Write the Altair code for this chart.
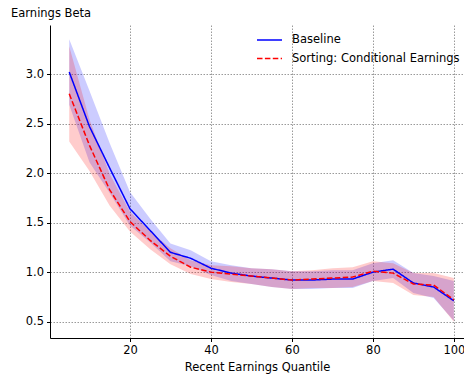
import altair as alt
import pandas as pd

quantile = [5, 10, 15, 20, 25, 30, 35, 40, 45, 50, 55, 60, 65, 70, 75, 80, 85, 90, 95, 100]
baseline = [3.02, 2.47, 2.05, 1.64, 1.42, 1.20, 1.14, 1.04, 0.99, 0.96, 0.94, 0.92, 0.92, 0.93, 0.93, 1.00, 1.03, 0.89, 0.85, 0.71]
baseline_half = [0.33, 0.36, 0.25, 0.17, 0.12, 0.09, 0.08, 0.07, 0.08, 0.08, 0.09, 0.09, 0.09, 0.09, 0.09, 0.09, 0.09, 0.10, 0.11, 0.20]
sorting = [2.80, 2.28, 1.83, 1.51, 1.32, 1.16, 1.05, 1.00, 0.98, 0.96, 0.94, 0.92, 0.93, 0.94, 0.95, 1.01, 0.99, 0.88, 0.87, 0.72]
sorting_half = [0.48, 0.26, 0.16, 0.10, 0.09, 0.08, 0.07, 0.07, 0.08, 0.08, 0.09, 0.09, 0.09, 0.10, 0.10, 0.10, 0.10, 0.11, 0.12, 0.22]

series_names = ["Baseline", "Sorting: Conditional Earnings"]
x_ticks = [20, 40, 60, 80, 100]
y_ticks = [0.5, 1.0, 1.5, 2.0, 2.5, 3.0]

rows = []
for name, vals, half in [(series_names[0], baseline, baseline_half), (series_names[1], sorting, sorting_half)]:
    for q, v, h in zip(quantile, vals, half):
        rows.append({"q": q, "beta": v, "lo": v - h, "hi": v + h, "series": name})
df = pd.DataFrame(rows)

FONT = "DejaVu Sans"
FS = 11.5
xscale = alt.Scale(domain=[0.25, 102.5], nice=False, zero=False)
yscale = alt.Scale(domain=[0.335, 3.495], nice=False, zero=False)
color_scale = alt.Scale(domain=series_names, range=["#0000ff", "#ff0000"])
dash_scale = alt.Scale(domain=series_names, range=[[1, 0], [5.5, 2.4]])

xaxis = alt.Axis(values=x_ticks, title="Recent Earnings Quantile", grid=True,
                 gridDash=[1.5, 1.5], gridColor="#808080", gridWidth=0.8,
                 tickSize=3.5, labelPadding=3, titlePadding=5,
                 domainColor="black", tickColor="black")
yaxis = alt.Axis(values=y_ticks, format=".1f", title="Earnings Beta", grid=True,
                 gridDash=[1.5, 1.5], gridColor="#808080", gridWidth=0.8,
                 tickSize=3.5, labelPadding=3,
                 titleAngle=0, titleX=-39.5, titleY=-8.5, titleAlign="left",
                 titleBaseline="alphabetic",
                 domainColor="black", tickColor="black")

legend = alt.Legend(title=None, orient="none", legendX=213.5, legendY=9,
                    symbolType="M-2.5,0H2.5", symbolSize=100,
                    symbolStrokeWidth=1.5, labelOffset=16.5,
                    rowPadding=6.5, padding=0, labelFontSize=FS, labelLimit=0,
                    labelFont=FONT, labelColor="black")

base = alt.Chart(df)

band_b = base.transform_filter(alt.datum.series == series_names[0]).mark_area(
    color="#0000ff", opacity=0.2).encode(
    x=alt.X("q:Q", scale=xscale, axis=xaxis),
    y=alt.Y("lo:Q", scale=yscale, axis=yaxis),
    y2="hi:Q")
band_s = base.transform_filter(alt.datum.series == series_names[1]).mark_area(
    color="#ff0000", opacity=0.2).encode(
    x=alt.X("q:Q", scale=xscale),
    y=alt.Y("lo:Q", scale=yscale),
    y2="hi:Q")

lines = base.mark_line(strokeWidth=1.5).encode(
    x=alt.X("q:Q", scale=xscale),
    y=alt.Y("beta:Q", scale=yscale),
    color=alt.Color("series:N", scale=color_scale, sort=series_names, legend=legend),
    strokeDash=alt.StrokeDash("series:N", scale=dash_scale, sort=series_names, legend=legend),
)

chart = alt.layer(band_b, band_s, lines).properties(
    width=414, height=313,
    background="white",
    autosize=alt.AutoSizeParams(type="none"),
    padding={"left": 50, "top": 25, "right": 0, "bottom": 38},
).configure_view(stroke=None).configure_axis(
    labelFont=FONT, titleFont=FONT, labelFontSize=FS, titleFontSize=FS,
    labelColor="black", titleColor="black", titleFontWeight="normal",
    domainWidth=1, tickWidth=1
)

chart.save("out.html", embed_options={"renderer": "svg", "actions": False})
